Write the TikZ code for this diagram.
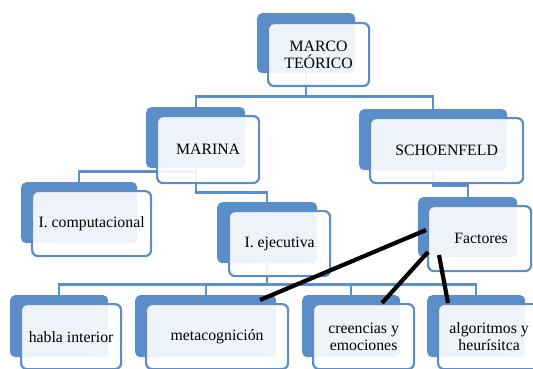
\documentclass[tikz,border=0pt]{standalone}
\usepackage{fontspec}
\setmainfont{Liberation Serif}
\definecolor{sablue}{RGB}{91,141,200}
\definecolor{salinkblue}{RGB}{93,143,202}
\begin{document}
\begin{tikzpicture}[x=1pt,y=-1pt,
  backbox/.style={fill=sablue, rounded corners=5pt, inner sep=0pt, anchor=north west},
  frontbox/.style={draw=sablue, line width=2.2pt, fill=white, fill opacity=0.9, text opacity=1,
    rounded corners=6pt, inner sep=0pt, anchor=north west, align=center,
    font=\fontsize{15.8}{17}\selectfont, text=black},
  conn/.style={draw=salinkblue, line width=2.2pt},
  blackline/.style={draw=black, line width=4.2pt}]
\useasboundingbox (0,0) rectangle (533,369);
% back boxes
\node[backbox, minimum width=98pt,  minimum height=60pt] (mb)    at (257,13)  {};
\node[backbox, minimum width=99pt,  minimum height=61pt] (marb)  at (146,107) {};
\node[backbox, minimum width=148pt, minimum height=61pt] (schb)  at (359,109) {};
\node[backbox, minimum width=116pt, minimum height=61pt] (compb) at (21,182)  {};
\node[backbox, minimum width=100pt, minimum height=61pt] (ejeb)  at (217,202) {};
\node[backbox, minimum width=99pt,  minimum height=60pt] (facb)  at (418,197) {};
\node[backbox, minimum width=98pt,  minimum height=62pt] (habb)  at (10,295)  {};
\node[backbox, minimum width=141pt, minimum height=62pt] (metb)  at (135,295) {};
\node[backbox, minimum width=98pt,  minimum height=62pt] (creb)  at (302,295) {};
\node[backbox, minimum width=98pt,  minimum height=62pt] (algb)  at (427,295) {};
% connectors
\draw[conn] (mb.south) -- ++(0,23) -| (marb.north);
\draw[conn] (mb.south) -- ++(0,23) -| (schb.north);
\draw[conn] (marb.south) -- ++(0,3) -| (compb.north);
\draw[conn] (marb.south) -- ++(0,24) -| (ejeb.north);
\draw[conn] (schb.south) -- ++(0,15) -| (facb.north);
\draw[conn] (ejeb.south) -- ++(0,21) -| (habb.north);
\draw[conn] (ejeb.south) -- ++(0,21) -| (metb.north);
\draw[conn] (ejeb.south) -- ++(0,21) -| (creb.north);
\draw[conn] (ejeb.south) -- ++(0,21) -| (algb.north);
% front boxes
\node[frontbox, minimum width=101pt, minimum height=63pt] (m)    at (267,22)  {MARCO\\TEÓRICO};
\node[frontbox, minimum width=102pt, minimum height=67pt] (mar)  at (156,115) {MARINA};
\node[frontbox, minimum width=153pt, minimum height=65pt] (sch)  at (369,117) {SCHOENFELD};
\node[frontbox, minimum width=119pt, minimum height=65pt] (comp) at (31,190)  {I. computacional};
\node[frontbox, minimum width=101pt, minimum height=65pt] (eje)  at (228,210) {I. ejecutiva};
\node[frontbox, minimum width=103pt, minimum height=65pt] (fac)  at (427,205) {\hspace*{3pt}Factores};
\node[frontbox, minimum width=100pt, minimum height=65pt] (hab)  at (20,303)  {habla interior};
\node[frontbox, minimum width=142pt, minimum height=65pt] (met)  at (145,303) {metacognición};
\node[frontbox, minimum width=101pt, minimum height=65pt] (cre)  at (312,303) {creencias y\\emociones};
\node[frontbox, minimum width=102pt, minimum height=65pt] (alg)  at (437,303) {algoritmos y\\heurísitca};
% black lines
\coordinate (f1) at (426,230);
\coordinate (f2) at (428,252);
\coordinate (f3) at (439,255);
\coordinate (t1) at (260,300);
\coordinate (t2) at (382,303);
\coordinate (t3) at (448,303);
\draw[blackline] (f1) -- (t1);
\draw[blackline] (f2) -- (t2);
\draw[blackline] (f3) -- (t3);
\end{tikzpicture}
\end{document}
